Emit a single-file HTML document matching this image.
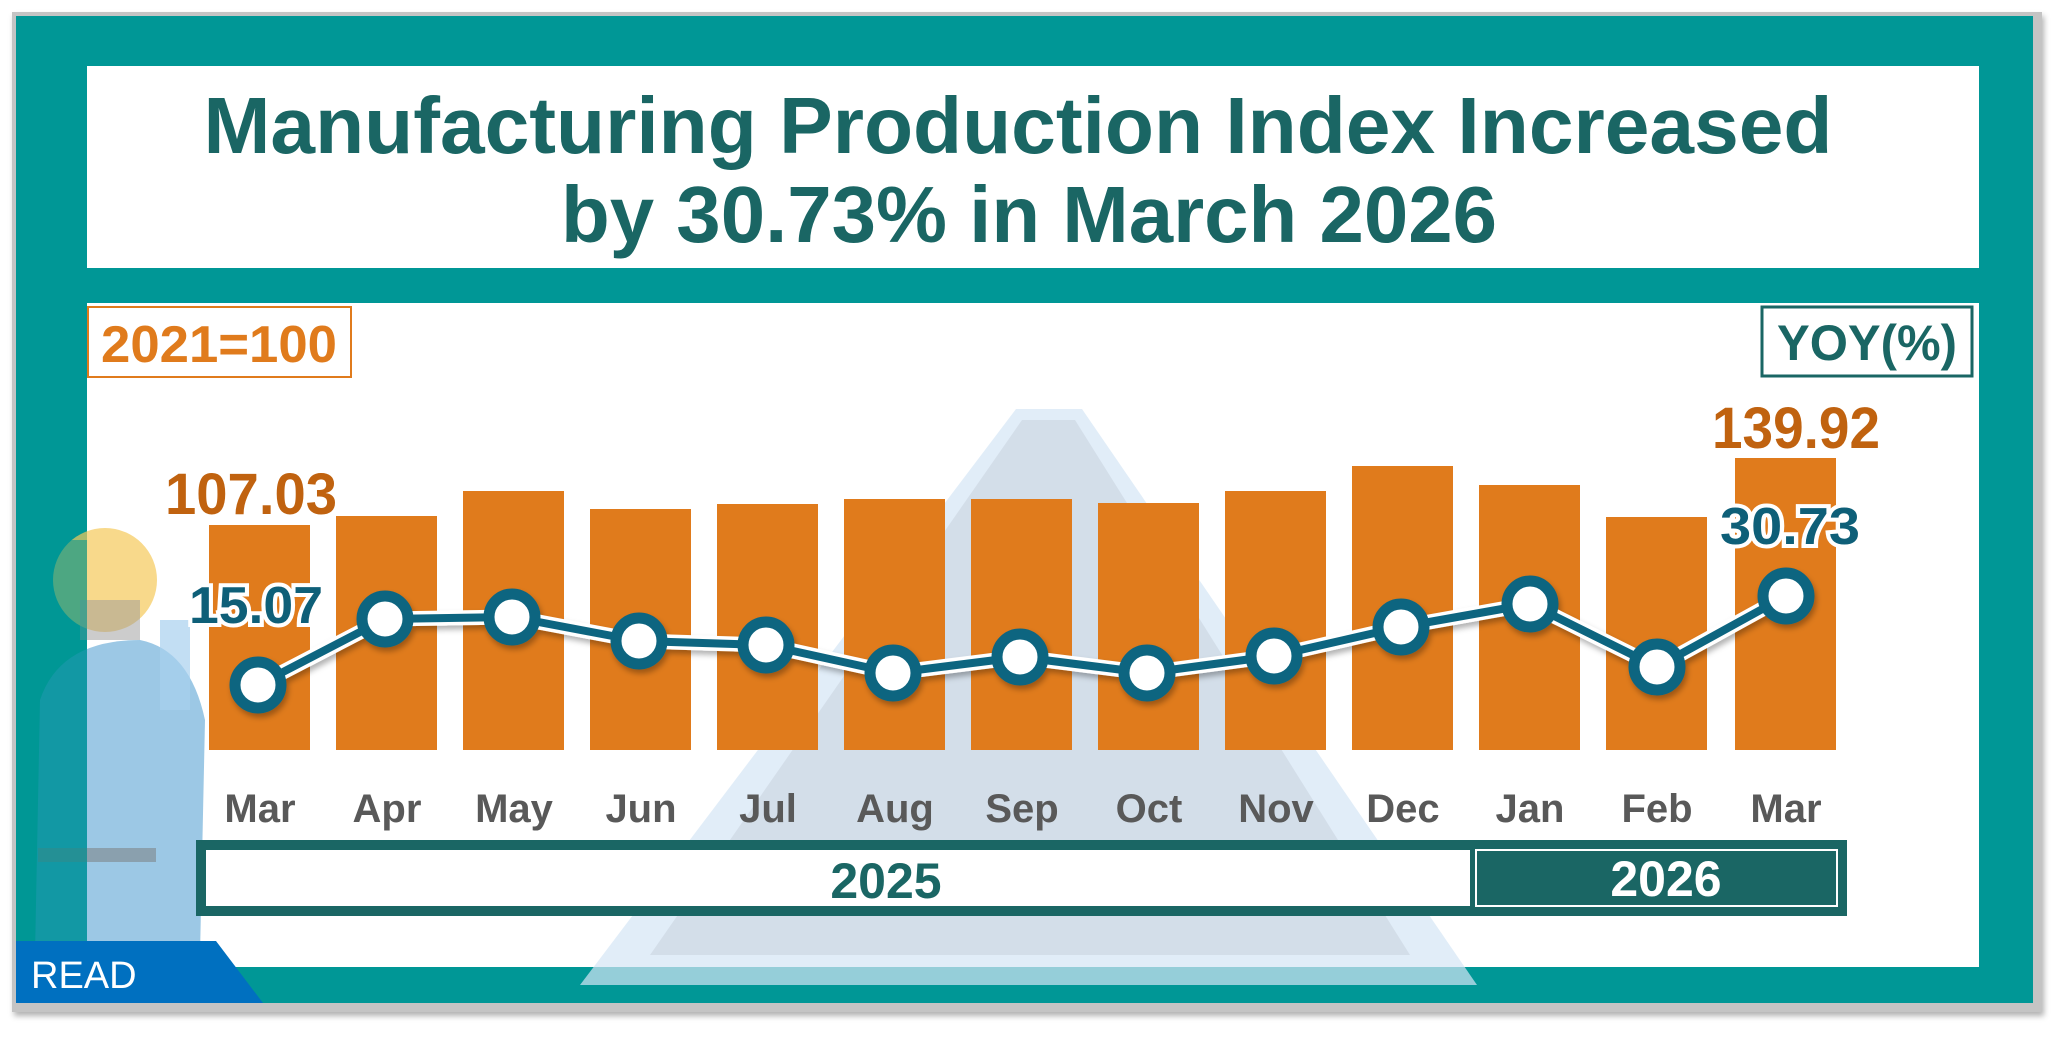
<!DOCTYPE html>
<html><head><meta charset="utf-8"><style>
html,body{margin:0;padding:0;background:#fff;}
svg{display:block;}
text{font-family:"Liberation Sans",sans-serif;font-weight:bold;}
</style></head><body>
<svg width="2068" height="1040" viewBox="0 0 2068 1040" xmlns="http://www.w3.org/2000/svg">
<defs>
<filter id="sh" x="-10%" y="-10%" width="130%" height="130%"><feDropShadow dx="2" dy="4" stdDeviation="3" flood-color="#000" flood-opacity="0.3"/></filter>
</defs>
<rect x="0" y="0" width="2068" height="1040" fill="#fff"/>
<rect x="12" y="12" width="2030" height="1000" fill="#c4c4c4" filter="url(#sh)"/>
<rect x="16" y="16" width="2017" height="987" fill="#009796"/>
<!-- title box -->
<rect x="87" y="66" width="1892" height="202" fill="#fff"/>
<text x="1018" y="153" font-size="80" fill="#1a6664" text-anchor="middle" textLength="1629" lengthAdjust="spacingAndGlyphs">Manufacturing Production Index Increased</text>
<text x="1029" y="242" font-size="80" fill="#1a6664" text-anchor="middle" textLength="936" lengthAdjust="spacingAndGlyphs">by 30.73% in March 2026</text>
<!-- chart box -->
<rect x="87" y="303" width="1892" height="664" fill="#fff"/>
<!-- faint background -->
<polygon points="580,985 1477,985 1082,409 1016,409" fill="#d4e6f5" opacity="0.7"/>
<polygon points="650,955 1410,955 1075,420 1022,420" fill="#c8d2dc" opacity="0.55"/>
<!-- worker -->
<circle cx="105" cy="580" r="52" fill="#f5c95a" opacity="0.7"/>
<rect x="80" y="600" width="60" height="40" fill="#999" opacity="0.5"/>
<path d="M40,700 Q60,640 140,640 Q190,650 205,720 L200,955 L35,955 Z" fill="#4a9bd0" opacity="0.55"/>
<rect x="38" y="848" width="118" height="14" fill="#777" opacity="0.5"/>
<rect x="160" y="620" width="30" height="90" fill="#a8d0ee" opacity="0.7"/>
<rect x="16" y="540" width="71" height="420" fill="#009796" opacity="0.55"/>
<!-- legends -->
<rect x="88" y="307" width="263" height="70" fill="#fff" stroke="#e07b1c" stroke-width="2"/>
<text x="219" y="362" font-size="52" fill="#e07b1c" text-anchor="middle" textLength="236" lengthAdjust="spacingAndGlyphs">2021=100</text>
<rect x="1762" y="307" width="210" height="69" fill="#fff" stroke="#1a6664" stroke-width="3"/>
<text x="1867" y="360" font-size="50" fill="#1a6664" text-anchor="middle" textLength="180" lengthAdjust="spacingAndGlyphs">YOY(%)</text>
<!-- bars -->
<g fill="#e07b1c">
<rect x="209" y="525" width="101" height="225"/>
<rect x="336" y="516" width="101" height="234"/>
<rect x="463" y="491" width="101" height="259"/>
<rect x="590" y="509" width="101" height="241"/>
<rect x="717" y="504" width="101" height="246"/>
<rect x="844" y="499" width="101" height="251"/>
<rect x="971" y="499" width="101" height="251"/>
<rect x="1098" y="503" width="101" height="247"/>
<rect x="1225" y="491" width="101" height="259"/>
<rect x="1352" y="466" width="101" height="284"/>
<rect x="1479" y="485" width="101" height="265"/>
<rect x="1606" y="517" width="101" height="233"/>
<rect x="1735" y="458" width="101" height="292"/>
</g>
<!-- line -->
<g filter="url(#sh)">
<polyline points="258,685 385,619 512,617 639,641 766,645 893,673 1020,657 1147,673 1274,656 1401,627 1530,604 1657,667 1786,596" fill="none" stroke="#fff" stroke-width="15" stroke-linejoin="round"/>
<polyline points="258,685 385,619 512,617 639,641 766,645 893,673 1020,657 1147,673 1274,656 1401,627 1530,604 1657,667 1786,596" fill="none" stroke="#0e6580" stroke-width="8" stroke-linejoin="round"/>
<g fill="#fff" stroke="#0e6580" stroke-width="11">
<circle cx="258" cy="685" r="23"/><circle cx="385" cy="619" r="23"/><circle cx="512" cy="617" r="23"/><circle cx="639" cy="641" r="23"/><circle cx="766" cy="645" r="23"/><circle cx="893" cy="673" r="23"/><circle cx="1020" cy="657" r="23"/><circle cx="1147" cy="673" r="23"/><circle cx="1274" cy="656" r="23"/><circle cx="1401" cy="627" r="23"/><circle cx="1530" cy="604" r="23"/><circle cx="1657" cy="667" r="23"/><circle cx="1786" cy="596" r="23"/>
</g>
</g>
<!-- labels -->
<text x="165" y="514" font-size="58" fill="#c0620f" textLength="172" lengthAdjust="spacingAndGlyphs">107.03</text>
<text x="1712" y="448" font-size="58" fill="#c0620f" textLength="168" lengthAdjust="spacingAndGlyphs">139.92</text>
<g stroke="#fff" stroke-width="8" paint-order="stroke" fill="#0e5f78" font-size="52">
<text x="189" y="623" textLength="134" lengthAdjust="spacingAndGlyphs">15.07</text>
<text x="1720" y="544" textLength="140" lengthAdjust="spacingAndGlyphs">30.73</text>
</g>
<!-- months -->
<g font-size="40" fill="#595959" text-anchor="middle">
<text x="260" y="822">Mar</text><text x="387" y="822">Apr</text><text x="514" y="822">May</text><text x="641" y="822">Jun</text><text x="768" y="822">Jul</text><text x="895" y="822">Aug</text><text x="1022" y="822">Sep</text><text x="1149" y="822">Oct</text><text x="1276" y="822">Nov</text><text x="1403" y="822">Dec</text><text x="1530" y="822">Jan</text><text x="1657" y="822">Feb</text><text x="1786" y="822">Mar</text>
</g>
<!-- year bar -->
<rect x="196" y="840" width="1651" height="76" fill="#1a6664"/>
<rect x="206" y="850" width="1264" height="56" fill="#fff"/>
<rect x="1476" y="850" width="361" height="56" fill="#1a6664" stroke="#fff" stroke-width="2"/>
<text x="886" y="898" font-size="50" fill="#1a6664" text-anchor="middle">2025</text>
<text x="1666" y="896" font-size="50" fill="#fff" text-anchor="middle">2026</text>
<!-- READ -->
<polygon points="16,941 216,941 263,1003 16,1003" fill="#0070c0"/>
<text x="31" y="988" font-size="38" fill="#fff" style="font-weight:normal">READ</text>
</svg>
</body></html>
